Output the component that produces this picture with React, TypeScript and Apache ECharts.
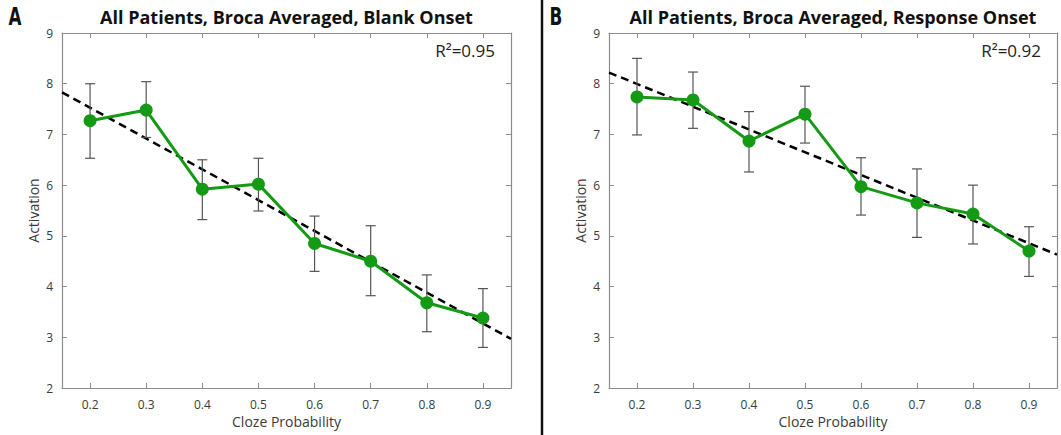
import React, { useEffect, useRef } from "react";
import * as echarts from "echarts";

const clozeProb = [0.2, 0.3, 0.4, 0.5, 0.6, 0.7, 0.8, 0.9];
const xTickLabels = [0.2, 0.3, 0.4, 0.5, 0.6, 0.7, 0.8, 0.9];

// Panel A: Blank Onset
const meanA = [7.27, 7.48, 5.92, 6.02, 4.85, 4.5, 3.68, 3.38];
const lowA = [6.53, 6.94, 5.32, 5.49, 4.3, 3.82, 3.11, 2.8];
const highA = [8.0, 8.04, 6.5, 6.53, 5.39, 5.2, 4.23, 3.96];
const trendA = [[0.15, 7.83], [0.95, 2.97]];

// Panel B: Response Onset
const meanB = [7.74, 7.68, 6.87, 7.4, 5.97, 5.65, 5.43, 4.7];
const lowB = [6.99, 7.12, 6.26, 6.83, 5.41, 4.97, 4.84, 4.2];
const highB = [8.5, 8.23, 7.45, 7.95, 6.54, 6.32, 6.0, 5.18];
const trendB = [[0.15, 8.22], [0.95, 4.63]];

const titles = [
  "All Patients, Broca Averaged, Blank Onset",
  "All Patients, Broca Averaged, Response Onset",
];
const panelLetters = ["A", "B"];
const rSquared = ["R²=0.95", "R²=0.92"];

const GREEN = "#149a14";
const AXIS = "#8c8c8c";
const LABEL = "#3a3a3a";
const FONT = "'Open Sans', Lato, sans-serif";

export default function App() {
  const ref = useRef<HTMLDivElement>(null);
  useEffect(() => {
    if (!ref.current) return;
    const chart = echarts.init(ref.current, null, { renderer: "svg" });
    const grids = [
      { left: 62, top: 33, width: 449, height: 355 },
      { left: 609, top: 33, width: 448, height: 355 },
    ];
    const xAxes: any[] = [];
    const yAxes: any[] = [];
    const series: any[] = [];
    const graphics: any[] = [];
    const panels = [
      { mean: meanA, low: lowA, high: highA, trend: trendA },
      { mean: meanB, low: lowB, high: highB, trend: trendB },
    ];
    panels.forEach((p, i) => {
      const common = {
        gridIndex: i,
        type: "value",
        axisLine: { show: true, lineStyle: { color: AXIS, width: 1.2 } },
        splitLine: { show: false },
      };
      xAxes.push({
        ...common,
        position: "bottom",
        min: 0.15,
        max: 0.95,
        axisTick: { show: true, inside: true, length: 5, lineStyle: { color: AXIS }, customValues: xTickLabels },
        axisLabel: {
          show: true,
          customValues: xTickLabels,
          formatter: (v: number) => v.toFixed(1),
          color: LABEL,
          fontSize: 12,
          fontFamily: FONT,
          margin: 10,
        },
      });
      xAxes.push({
        ...common,
        position: "top",
        min: 0.15,
        max: 0.95,
        axisTick: { show: true, inside: true, length: 5, lineStyle: { color: AXIS }, customValues: xTickLabels },
        axisLabel: { show: false },
      });
      yAxes.push({
        ...common,
        position: "left",
        min: 2,
        max: 9,
        interval: 1,
        axisTick: { show: true, inside: true, length: 5, lineStyle: { color: AXIS } },
        axisLabel: { show: true, color: LABEL, fontSize: 12, fontFamily: FONT, margin: 9 },
      });
      yAxes.push({
        ...common,
        position: "right",
        min: 2,
        max: 9,
        interval: 1,
        axisTick: { show: true, inside: true, length: 5, lineStyle: { color: AXIS } },
        axisLabel: { show: false },
      });
      const xi = i * 2;
      const yi = i * 2;
      series.push({
        type: "line",
        xAxisIndex: xi,
        yAxisIndex: yi,
        data: p.trend,
        showSymbol: false,
        symbol: "none",
        lineStyle: { color: "#000", width: 2.5, type: [8, 5] },
        z: 3,
      });
      series.push({
        type: "custom",
        xAxisIndex: xi,
        yAxisIndex: yi,
        data: clozeProb.map((x, k) => [x, p.low[k], p.high[k]]),
        renderItem: (params: any, api: any) => {
          const x = api.value(0);
          const lo = api.coord([x, api.value(1)]);
          const hi = api.coord([x, api.value(2)]);
          const w = 5;
          const st = { stroke: "#555", lineWidth: 1.2 };
          return {
            type: "group",
            children: [
              { type: "line", shape: { x1: lo[0], y1: lo[1], x2: hi[0], y2: hi[1] }, style: st },
              { type: "line", shape: { x1: lo[0] - w, y1: lo[1], x2: lo[0] + w, y2: lo[1] }, style: st },
              { type: "line", shape: { x1: hi[0] - w, y1: hi[1], x2: hi[0] + w, y2: hi[1] }, style: st },
            ],
          };
        },
        z: 4,
      });
      series.push({
        type: "line",
        xAxisIndex: xi,
        yAxisIndex: yi,
        data: clozeProb.map((x, k) => [x, p.mean[k]]),
        symbol: "circle",
        symbolSize: 13,
        itemStyle: { color: GREEN },
        lineStyle: { color: GREEN, width: 3 },
        z: 5,
      });
      const g = grids[i];
      const cx = g.left + g.width / 2;
      graphics.push({
        type: "text",
        x: cx,
        y: 17,
        style: {
          text: titles[i],
          font: `bold 18px ${FONT}`,
          fill: "#111",
          textAlign: "center",
          textVerticalAlign: "middle",
        },
      });
      graphics.push({
        type: "text",
        x: g.left + g.width - 16,
        y: 50,
        style: {
          text: rSquared[i],
          font: `17px ${FONT}`,
          fill: "#222",
          textAlign: "right",
          textVerticalAlign: "middle",
        },
      });
      graphics.push({
        type: "text",
        x: cx,
        y: 421,
        style: {
          text: "Cloze Probability",
          font: `14px ${FONT}`,
          fill: LABEL,
          textAlign: "center",
          textVerticalAlign: "middle",
        },
      });
      graphics.push({
        type: "text",
        x: g.left - 29,
        y: g.top + g.height / 2,
        rotation: Math.PI / 2,
        style: {
          text: "Activation",
          font: `14px ${FONT}`,
          fill: LABEL,
          textAlign: "center",
          textVerticalAlign: "middle",
        },
      });
      graphics.push({
        type: "text",
        x: i === 0 ? 15 : 556,
        y: 17,
        scaleX: 0.7,
        style: {
          text: panelLetters[i],
          font: `bold 24px 'DejaVu Sans', ${FONT}`,
          fill: "#111",
          textAlign: "center",
          textVerticalAlign: "middle",
        },
      });
    });
    graphics.push({
      type: "line",
      shape: { x1: 542, y1: 0, x2: 542, y2: 435 },
      style: { stroke: "#111", lineWidth: 2.5 },
    });
    chart.setOption({
      animation: false,
      backgroundColor: "#fff",
      grid: grids,
      xAxis: xAxes,
      yAxis: yAxes,
      series,
      graphic: graphics,
    });
    return () => chart.dispose();
  }, []);
  return (
    <div
      ref={ref}
      style={{ position: "fixed", left: 0, top: 0, width: 1061, height: 435 }}
    />
  );
}
